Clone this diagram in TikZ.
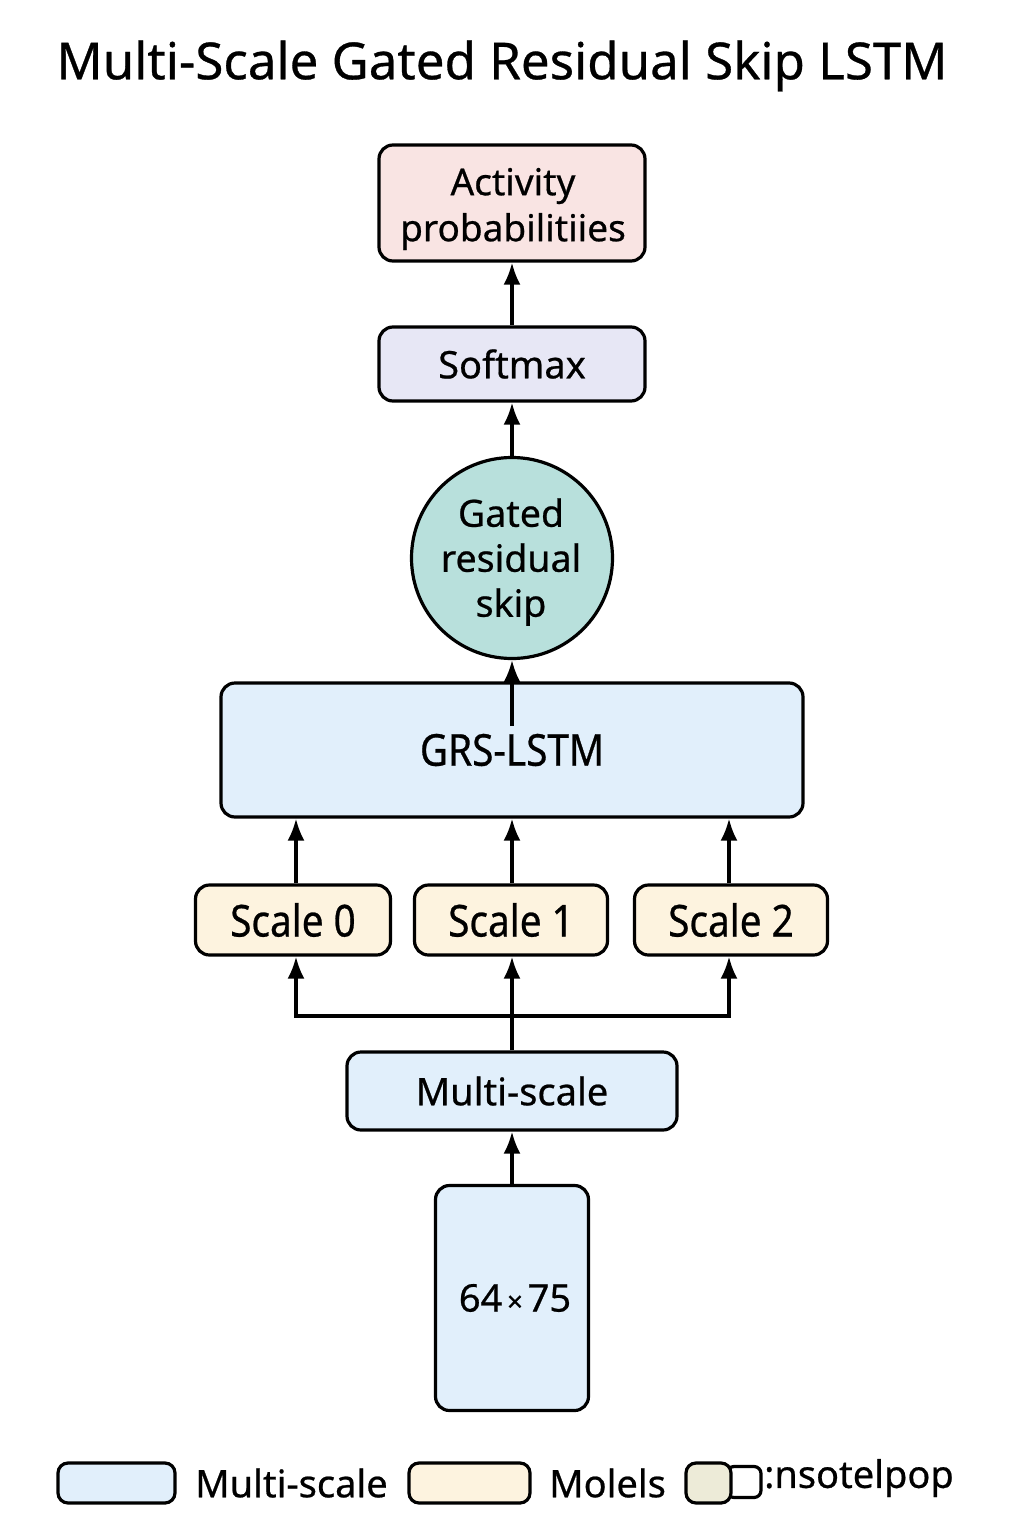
\documentclass[tikz,border=0pt]{standalone}
\usepackage{fontspec}
\setmainfont{Noto Sans}[FakeBold=0.6]
\newfontfamily\condfont{Noto Sans}[FakeStretch=0.88,FakeBold=0.6]
\usetikzlibrary{arrows.meta}
\definecolor{cpink}{HTML}{F9E4E3}
\definecolor{clav}{HTML}{E7E7F5}
\definecolor{cteal}{HTML}{B8E0DC}
\definecolor{cblue}{HTML}{E1EFFB}
\definecolor{ccream}{HTML}{FDF3DF}
\definecolor{cbeige}{HTML}{EDEBD8}
\begin{document}
\begin{tikzpicture}[x=1pt,y=-1pt,
  txt/.style={font=\fontsize{38}{46}\selectfont},
  ctxt/.style={font=\condfont\fontsize{44}{50}\selectfont},
  box/.style={draw=black,line width=3.2pt,rounded corners=14pt,inner sep=0pt,align=center,txt},
  circ/.style={draw=black,line width=3.2pt,circle,inner sep=0pt,align=center,font=\fontsize{37.5}{45}\selectfont},
  arr/.style={line width=3.2pt,-{Latex[length=22pt,width=17pt]}}]
\useasboundingbox[fill=white] (0,0) rectangle (1024,1536);
\node[font=\fontsize{51}{60}\selectfont] (title) at (502,66) {Multi-Scale Gated Residual Skip LSTM};
\node[box,fill=cpink,minimum width=266pt,minimum height=116pt] (act) at (512,203) {};
\node[txt,align=center,font=\fontsize{37}{46}\selectfont] (actt) at (513,209) {Activity\\probabilitiies};
\node[box,fill=clav,minimum width=266pt,minimum height=74pt] (soft) at (512,364) {Softmax};
\node[circ,fill=cteal,minimum size=201pt] (gate) at (512,558) {};
\node[align=center,font=\fontsize{37.5}{45}\selectfont] (gatet) at (511,562) {Gated\\residual\\skip};
\node[box,ctxt,fill=cblue,minimum width=582pt,minimum height=134pt] (grs) at (512,750) {GRS-LSTM};
\node[box,ctxt,fill=ccream,minimum width=195pt,minimum height=70pt] (s0) at (293,920) {Scale 0};
\node[box,ctxt,fill=ccream,minimum width=193pt,minimum height=70pt] (s1) at (511,920) {Scale 1};
\node[box,ctxt,fill=ccream,minimum width=193pt,minimum height=70pt] (s2) at (731,920) {Scale 2};
\node[box,fill=cblue,minimum width=330pt,minimum height=78pt] (ms) at (512,1091) {Multi-scale};
\node[box,fill=cblue,minimum width=153pt,minimum height=225pt] (inp) at (512,1298) {\hspace*{6pt}64{\fontsize{28}{28}\selectfont\,×\,}75};
% arrows
\draw[arr] (soft) -- (act);
\draw[arr] (gate) -- (soft);
\coordinate (gin) at (512,726);
\draw[arr] (gin) -- (gate.south);
\draw[arr] ([xshift=3pt]s0.north) -- ([xshift=3pt]s0.north |- grs.south);
\draw[arr] ([xshift=1pt]s1.north) -- ([xshift=1pt]s1.north |- grs.south);
\draw[arr] ([xshift=-2pt]s2.north) -- ([xshift=-2pt]s2.north |- grs.south);
\coordinate (fork) at (512,1016);
\draw[arr] (ms.north) -- (ms.north |- s1.south);
\draw[arr] (fork) -| ([xshift=3pt]s0.south);
\draw[arr] (fork) -| ([xshift=-2pt]s2.south);
\draw[arr] (inp) -- (ms);
% legend
\node[box,fill=cblue,minimum width=117pt,minimum height=40pt,rounded corners=10pt] (l1) at (116.5,1483) {};
\node[txt,anchor=west,inner sep=0pt] (l1t) at (195,1483) {Multi-scale};
\node[box,fill=ccream,minimum width=121pt,minimum height=40pt,rounded corners=10pt] (l2) at (469.5,1483) {};
\node[txt,anchor=west,inner sep=0pt] (l2t) at (549,1483) {Molels};
\node[box,fill=white,minimum width=34pt,minimum height=31pt,rounded corners=7pt] (l3b) at (744,1482) {};
\node[box,fill=cbeige,minimum width=45pt,minimum height=40pt,rounded corners=10pt] (l3) at (708.5,1483) {};
\node[txt,anchor=west,inner sep=0pt] (l3t) at (764,1478) {:nsotelpop};
\end{tikzpicture}
\end{document}
